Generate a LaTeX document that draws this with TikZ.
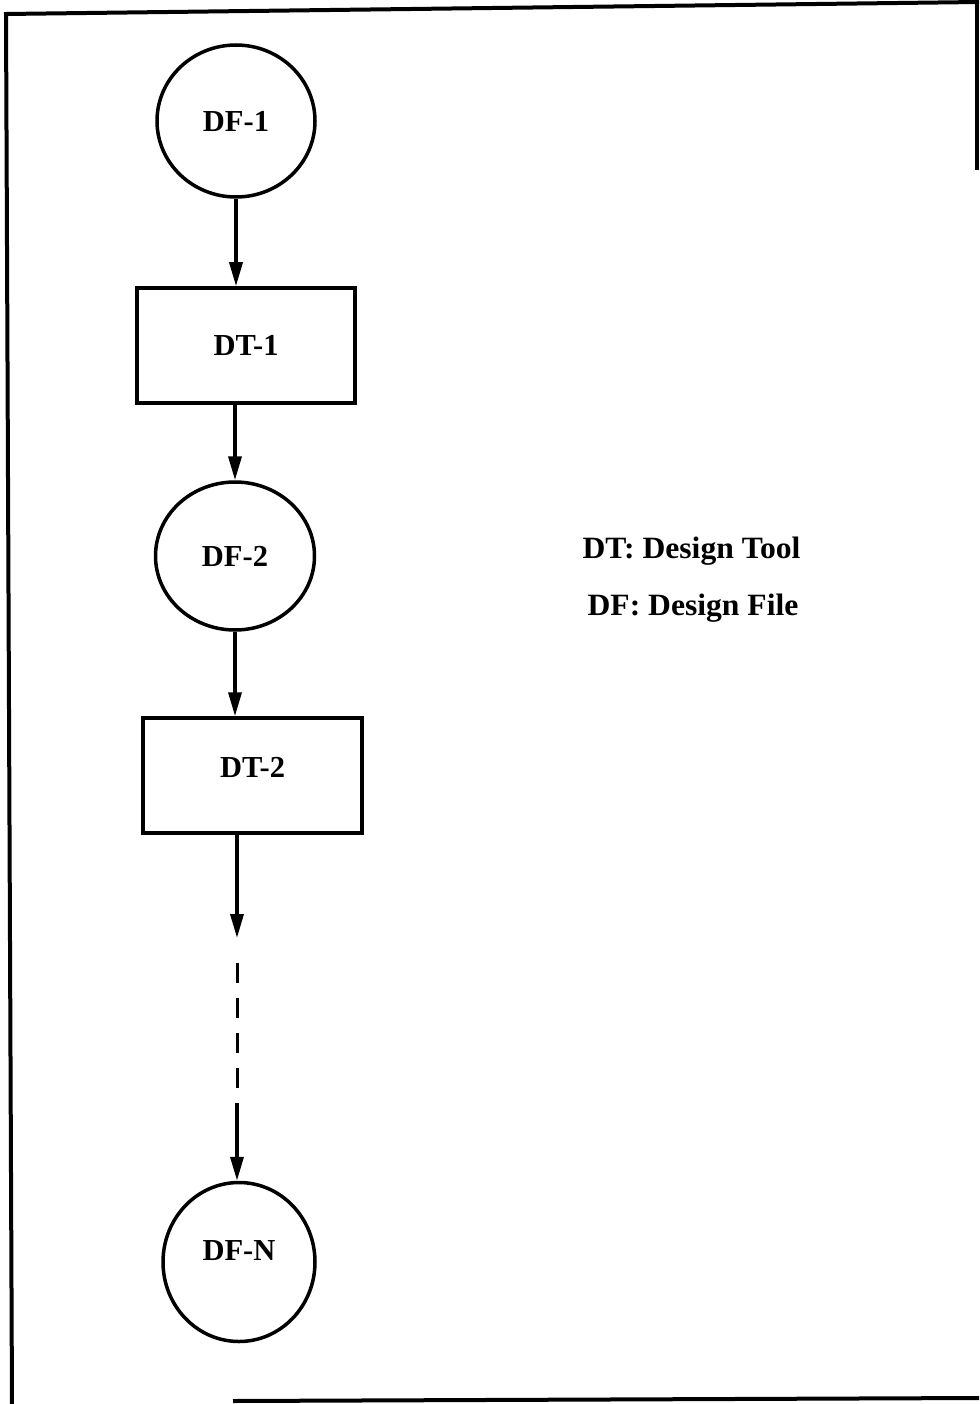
\documentclass[tikz,border=0pt]{standalone}
\usepackage{fontspec}
\setmainfont{Liberation Serif}
\newfontfamily\legendfont{Liberation Serif}[FakeStretch=1.02]
\usetikzlibrary{arrows.meta,shapes.geometric}
\tikzset{
  file/.style={ellipse, draw, line width=3.5pt, inner sep=0pt, font=\fontsize{30.5}{34}\selectfont\bfseries},
  tool/.style={rectangle, draw, line width=3.5pt, inner sep=0pt, minimum width=218pt, minimum height=115pt, font=\fontsize{30.5}{34}\selectfont\bfseries},
  legend/.style={anchor=base, inner sep=0pt, font=\fontsize{31}{34}\selectfont\legendfont\bfseries},
  arr/.style={line width=3.5pt, -{Triangle[length=24pt,width=13pt]}},
  dashseg/.style={line width=3pt, dash pattern=on 20pt off 15pt},
  frame/.style={line width=4pt}
}
\begin{document}
\begin{tikzpicture}[x=1pt,y=-1pt]
\useasboundingbox (0,0) rectangle (979,1404);
% frame
\draw[frame] (12,1404) -- (6,14) -- (979,2);
\draw[frame] (977,3) -- (977,170);
\draw[frame] (233,1401) -- (979,1398);
% nodes
\node[file, minimum width=158pt, minimum height=152pt] (df1) at (236,121) {DF-1};
\node[tool] (dt1) at (246,345.5) {DT-1};
\node[file, minimum width=159pt, minimum height=148pt] (df2) at (235,556) {DF-2};
\node[tool, minimum width=219pt, text depth=17pt] (dt2) at (252.5,775.5) {DT-2};
\node[file, minimum width=152pt, minimum height=159pt, text depth=24pt] (dfn) at (239,1262) {DF-N};
% legend
\node[legend] (l1) at (691.5,558) {DT: Design Tool};
\node[legend] (l2) at (693,615) {DF: Design File};
% connectors
\coordinate (c1) at (237,938);
\coordinate (c2) at (237,963);
\coordinate (c3) at (237,1090);
\coordinate (c4) at (237,1103);
\draw[arr] (df1.south) -- (df1.south |- dt1.north);
\draw[arr] (df2.north |- dt1.south) -- (df2.north);
\draw[arr] (df2.south) -- (df2.south |- dt2.north);
\draw[arr] (c1 |- dt2.south) -- (c1);
\draw[dashseg] (c2) -- (c3);
\draw[arr] (c4) -- (c4 |- dfn.north);
\end{tikzpicture}
\end{document}
